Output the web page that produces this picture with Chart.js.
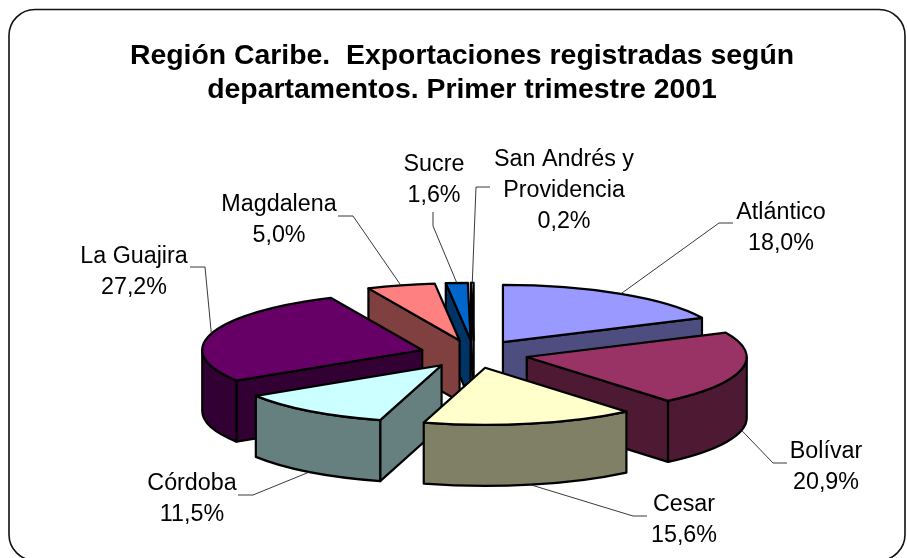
<!DOCTYPE html>
<html>
<head>
<meta charset="utf-8">
<style>html,body{margin:0;padding:0;background:#fff}canvas{display:block}</style>
<script src="https://cdn.jsdelivr.net/npm/chart.js@4/dist/chart.umd.min.js"></script>
</head>
<body>
<canvas id="c" width="907" height="558"></canvas>
<script>
const categories = ['Atlántico','Bolívar','Cesar','Córdoba','La Guajira','Magdalena','Sucre',['San Andrés y','Providencia']];
const shares = [18.0,20.9,15.6,11.5,27.2,5.0,1.6,0.2];
const topColors = ['#9999FF','#993366','#FFFFCC','#CCFFFF','#660066','#FF8080','#0066CC','#CCCCFF'];
const wallColors = ['#4D4D80','#4D1933','#808066','#668080','#330033','#804040','#003366','#666680'];
const titleLines = ['Región Caribe.  Exportaciones registradas según','departamentos. Primer trimestre 2001'];

// Presentation settings (pseudo-3D projection and label placement)
const view = {cx:474, cy:354, squash:0.26, depth:61, explode:54, radius:220};
const labelPos = [[781,212.5],[826,451.5],[684,504.5],[192,483.5],[134,256.5],[279,204.5],[434,164.5],[564,159.5]];
const leaderBends = [
  [[719,223],[733,223]],
  [[773,463],[787,463]],
  [[633,516],[647,516]],
  [[253,495],[238,495]],
  [[205,267],[190,267]],
  [[353,216],[338,216]],
  [[433,226],[433,212]],
  [[476,187],[490,187]]
];

function geom(arc){
  const mid=(arc.startAngle+arc.endAngle)/2;
  const ox=view.cx+Math.cos(mid)*view.explode;
  const oy=view.cy+Math.sin(mid)*view.explode*view.squash;
  return {mid,ox,oy,a0:arc.startAngle,a1:arc.endAngle,R:arc.outerRadius,
    px:a=>ox+Math.cos(a)*arc.outerRadius,
    py:a=>oy+Math.sin(a)*arc.outerRadius*view.squash};
}
function stroke(ctx){ctx.lineWidth=2.2;ctx.strokeStyle='#000';ctx.lineJoin='round';ctx.stroke();}
function quad(ctx,x1,y1,x2,y2,color){
  const d=view.depth;
  ctx.beginPath();ctx.moveTo(x1,y1);ctx.lineTo(x2,y2);ctx.lineTo(x2,y2+d);ctx.lineTo(x1,y1+d);ctx.closePath();
  ctx.fillStyle=color;ctx.fill();stroke(ctx);
}
const pie3d={
  id:'pie3d',
  beforeDraw(chart){
    const ctx=chart.ctx;
    ctx.save();
    ctx.fillStyle='#fff';ctx.fillRect(0,0,907,558);
    ctx.beginPath();ctx.roundRect(9,9.5,896,551,26);
    ctx.lineWidth=1.6;ctx.strokeStyle='#111';ctx.stroke();
    ctx.restore();
  },
  beforeDatasetsDraw(chart){
    const ctx=chart.ctx;
    const arcs=chart.getDatasetMeta(0).data;
    const order=arcs.map((a,i)=>i).sort((p,q)=>Math.sin(geom(arcs[p]).mid)-Math.sin(geom(arcs[q]).mid));
    ctx.save();
    for(const i of order){
      const arc=arcs[i],g=geom(arc),color=wallColors[i];
      const sx=g.px(g.a0),sy=g.py(g.a0),ex=g.px(g.a1),ey=g.py(g.a1);
      if(sx<g.ox-0.01) quad(ctx,g.ox,g.oy,sx,sy,color);
      if(ex>g.ox+0.01) quad(ctx,ex,ey,g.ox,g.oy,color);
      const b0=Math.max(g.a0,0),b1=Math.min(g.a1,Math.PI);
      if(b1>b0){
        ctx.beginPath();
        ctx.ellipse(g.ox,g.oy,g.R,g.R*view.squash,0,b0,b1,false);
        ctx.ellipse(g.ox,g.oy+view.depth,g.R,g.R*view.squash,0,b1,b0,true);
        ctx.closePath();
        ctx.fillStyle=color;ctx.fill();stroke(ctx);
      }
      ctx.save();
      ctx.translate(g.ox,g.oy);ctx.scale(1,view.squash);ctx.translate(-arc.x,-arc.y);
      arc.draw(ctx);
      ctx.restore();
      ctx.beginPath();
      ctx.moveTo(g.ox,g.oy);
      ctx.ellipse(g.ox,g.oy,g.R,g.R*view.squash,0,g.a0,g.a1,false);
      ctx.closePath();
      stroke(ctx);
    }
    ctx.restore();
    return false;
  },
  afterDraw(chart){
    const ctx=chart.ctx;
    const arcs=chart.getDatasetMeta(0).data;
    ctx.save();
    ctx.lineWidth=0.9;ctx.strokeStyle='#222';
    arcs.forEach((arc,i)=>{
      const g=geom(arc);
      const front=Math.sin(g.mid)>0.1;
      const ax=g.px(g.mid),ay=g.py(g.mid)+(front?view.depth:0);
      ctx.beginPath();ctx.moveTo(ax,ay);
      for(const p of leaderBends[i]) ctx.lineTo(p[0],p[1]);
      ctx.stroke();
    });
    ctx.fillStyle='#000';ctx.font='23.3px "Liberation Sans"';
    ctx.textAlign='center';ctx.textBaseline='middle';
    arcs.forEach((arc,i)=>{
      const names=[].concat(categories[i]);
      const lines=names.concat(shares[i].toFixed(1).replace('.',',')+'%');
      lines.forEach((t,j)=>ctx.fillText(t,labelPos[i][0],labelPos[i][1]+j*31));
    });
    ctx.restore();
  }
};
new Chart(document.getElementById('c'),{
  type:'pie',
  data:{labels:categories,datasets:[{data:shares,backgroundColor:topColors,borderWidth:0}]},
  options:{
    responsive:false,animation:false,radius:view.radius,
    layout:{padding:{left:17}},
    plugins:{
      legend:{display:false},tooltip:{enabled:false},
      title:{display:true,text:titleLines,color:'#000',
        font:{family:'"Liberation Sans"',size:28.4,weight:'bold',lineHeight:1.2},
        padding:{top:39,bottom:10}}
    }
  },
  plugins:[pie3d]
});
</script>
</body>
</html>
